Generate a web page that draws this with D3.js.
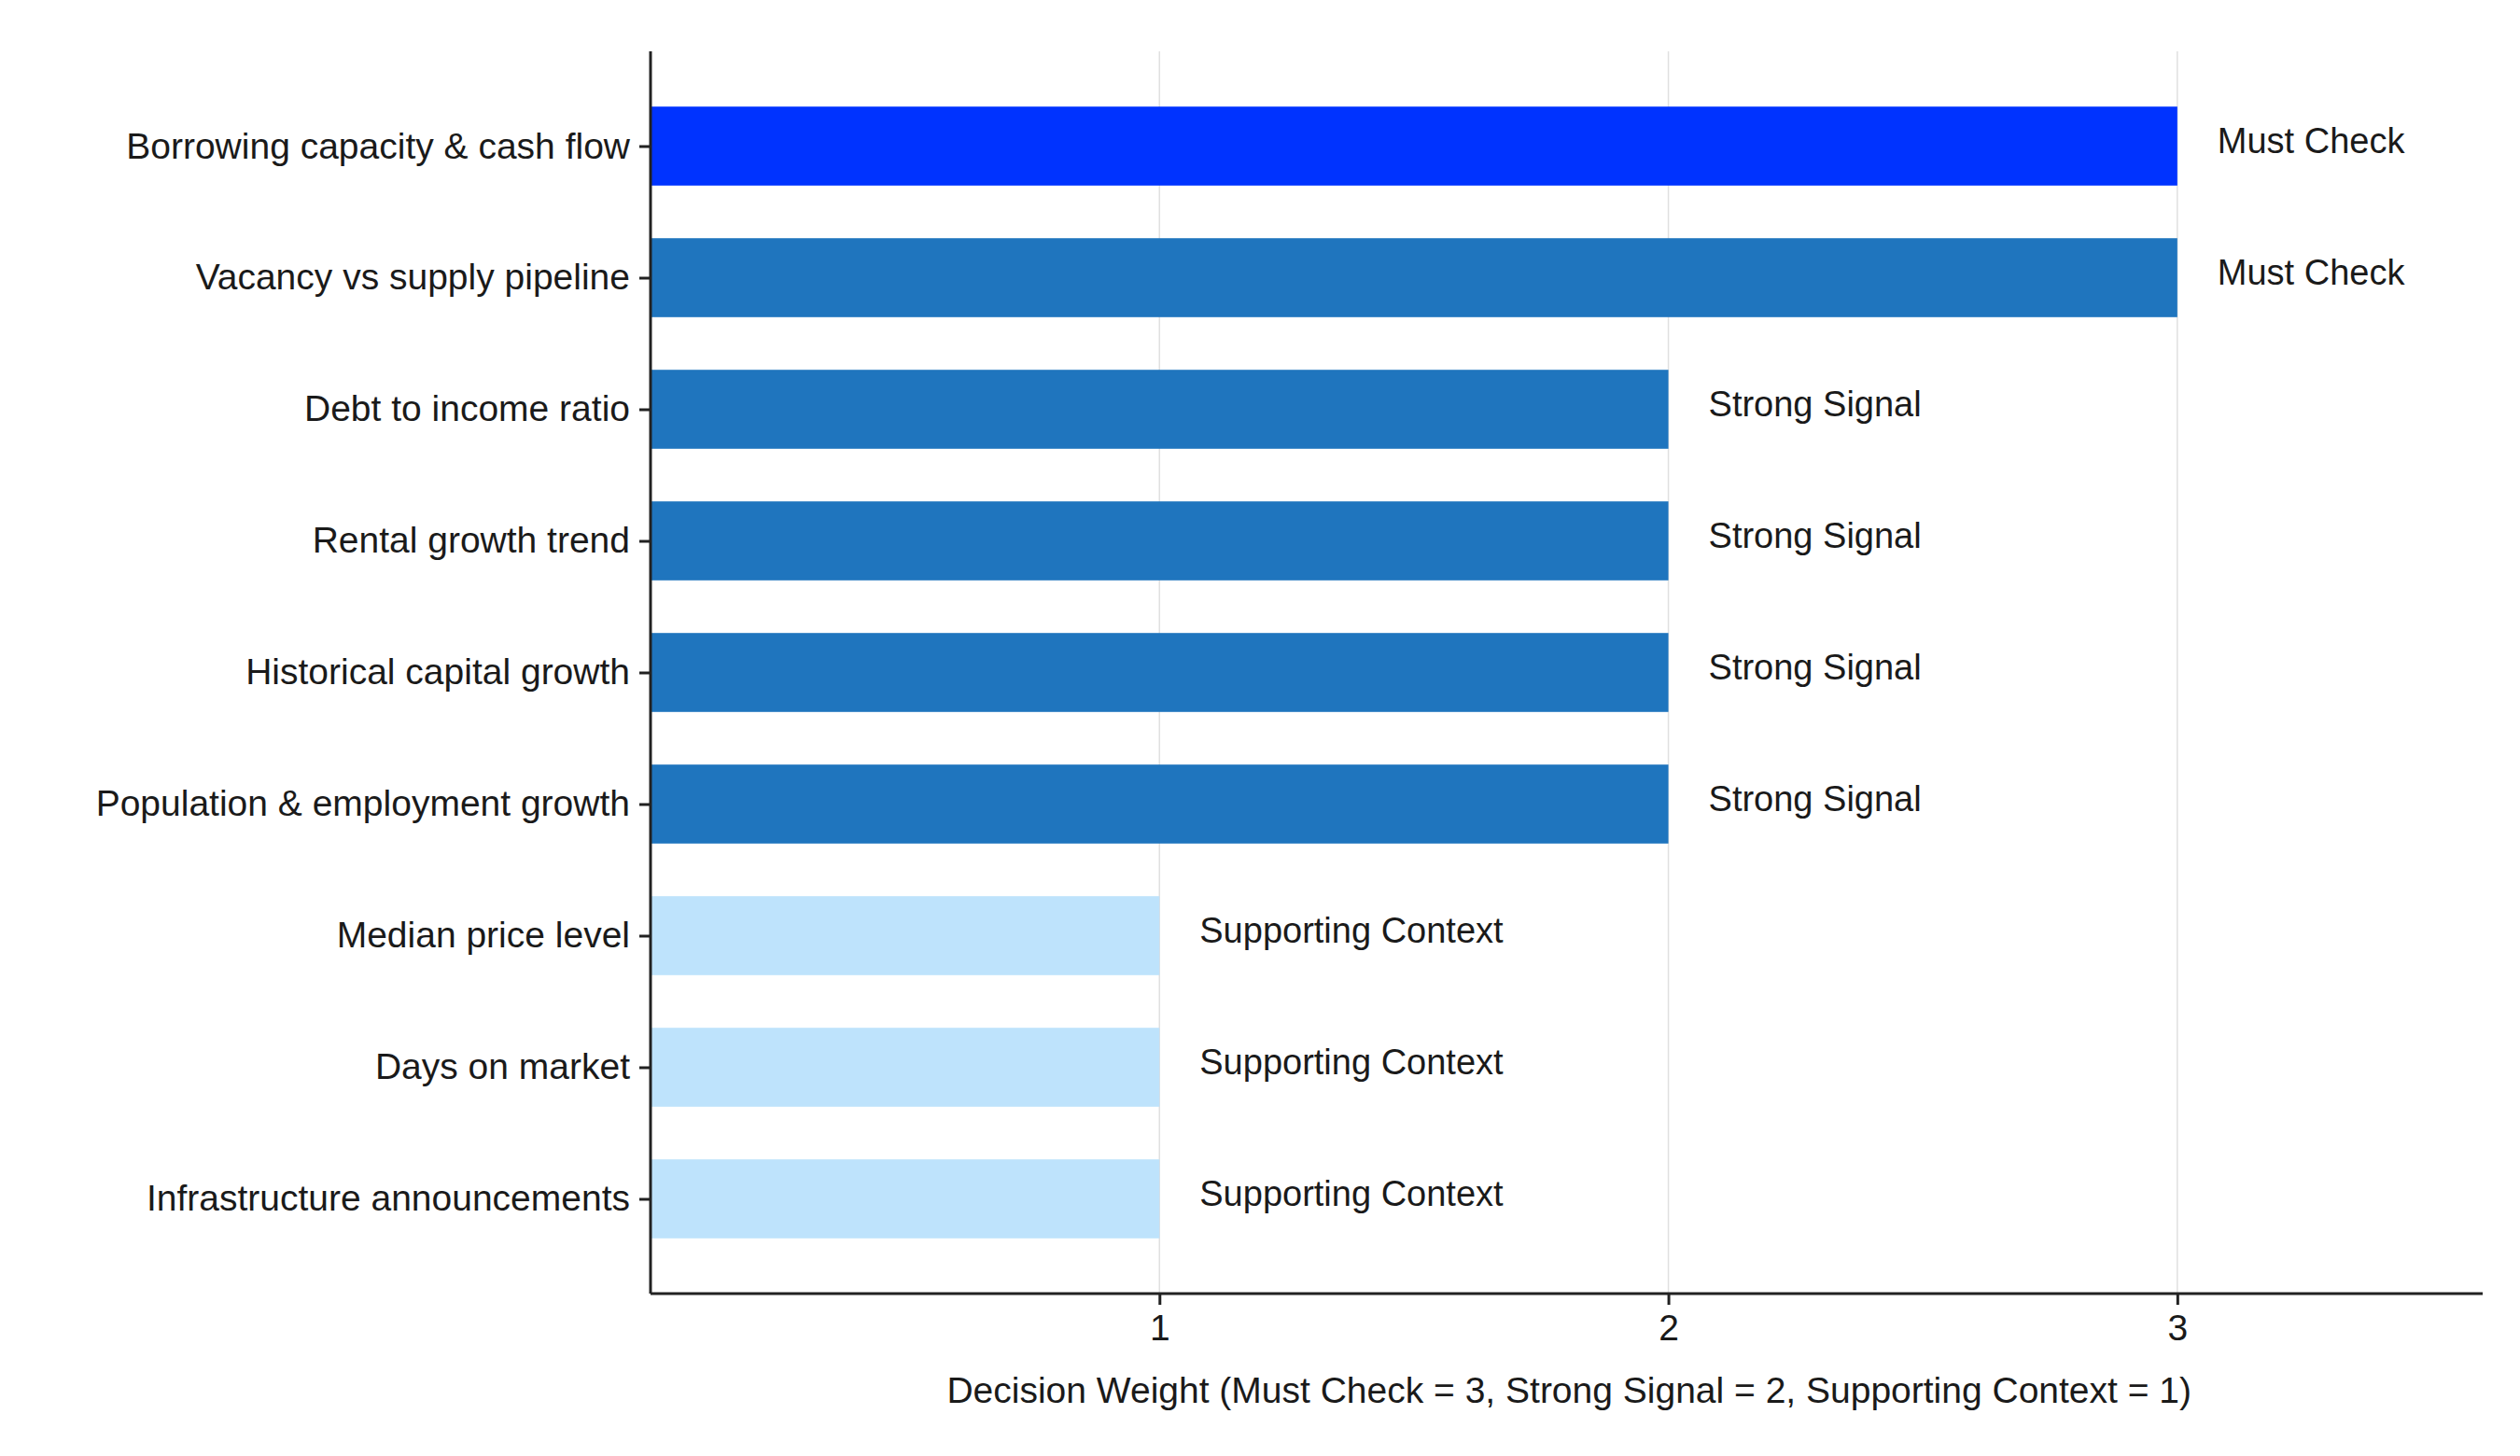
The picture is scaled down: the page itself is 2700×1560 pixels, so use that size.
<!DOCTYPE html>
<html><head><meta charset="utf-8">
<script src="https://cdn.jsdelivr.net/npm/d3@7"></script>
<style>body{margin:0;background:#fff}text{font-family:"Liberation Sans",Arial,sans-serif;fill:#1a1a1a}</style>
</head><body><svg id="c" width="2700" height="1560"></svg>
<script>
const factors = ["Borrowing capacity & cash flow","Vacancy vs supply pipeline","Debt to income ratio","Rental growth trend","Historical capital growth","Population & employment growth","Median price level","Days on market","Infrastructure announcements"];
const weights = [3,3,2,2,2,2,1,1,1];
const tiers = ["Must Check","Must Check","Strong Signal","Strong Signal","Strong Signal","Strong Signal","Supporting Context","Supporting Context","Supporting Context"];
const colors = ["#0033ff","#1f75be","#1f75be","#1f75be","#1f75be","#1f75be","#bee3fc","#bee3fc","#bee3fc"];
const ticks = [1,2,3];

const svg = d3.select("#c");
const L = 697, R = 2660, T = 55, B = 1386;
const x = d3.scaleLinear().domain([0,3.6]).range([L,R]);
const y = d3.scaleLinear().domain([-0.72,8.72]).range([T,B]);
const step = y(1)-y(0), bh = step*0.6;

// grid
svg.selectAll(".grid").data(ticks).join("line")
  .attr("x1",d=>x(d)).attr("x2",d=>x(d)).attr("y1",T).attr("y2",B)
  .attr("stroke","#e0e0e0").attr("stroke-width",1.5);

svg.selectAll(".bar").data(weights).join("rect")
  .attr("x",x(0)).attr("y",(d,i)=>y(i)-bh/2)
  .attr("width",d=>x(d)-x(0)).attr("height",bh)
  .attr("fill",(d,i)=>colors[i]);

svg.selectAll(".lab").data(weights).join("text")
  .attr("x",d=>x(d)+43).attr("y",(d,i)=>y(i)-3)
  .attr("dominant-baseline","middle").attr("font-size",38)
  .text((d,i)=>tiers[i]);

// axes
const ax = svg.append("g").attr("transform",`translate(0,${B})`)
  .call(d3.axisBottom(x).tickValues(ticks).tickFormat(d3.format("d")).tickSize(12).tickPadding(10));
ax.select(".domain").attr("d",`M${L},0H${R}`);
const ay = svg.append("g").attr("transform",`translate(${L},0)`)
  .call(d3.axisLeft(y).tickValues(d3.range(factors.length)).tickFormat(i=>factors[i]).tickSize(12).tickPadding(10));
ay.select(".domain").attr("d",`M0,${T}V${B}`);
svg.selectAll(".tick text").attr("font-size",39).attr("fill","#1a1a1a");
svg.selectAll(".domain,.tick line").attr("stroke","#222").attr("stroke-width",3);

svg.append("text").attr("x",(x(0.49)+x(3.12))/2).attr("y",1503)
  .attr("text-anchor","middle").attr("font-size",39)
  .text("Decision Weight (Must Check = 3, Strong Signal = 2, Supporting Context = 1)");
</script></body></html>
